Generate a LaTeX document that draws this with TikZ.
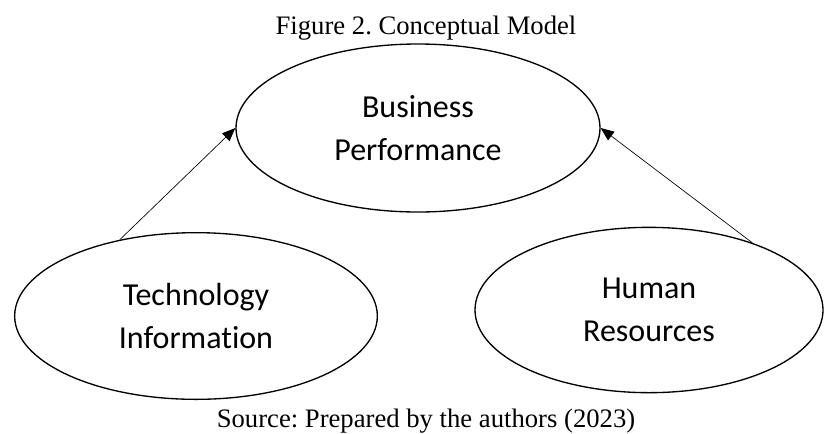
\documentclass[tikz,border=0pt]{standalone}
\usepackage{fontspec}
\setmainfont{Liberation Serif}
\newfontfamily\calibrifont[Ligatures=NoCommon]{Carlito}
\usetikzlibrary{arrows.meta,shapes.geometric,positioning}
\frenchspacing

\begin{document}
\begin{tikzpicture}[
        x=0.75pt, y=-0.75pt,
        concept node/.style={ellipse, draw, line width=1pt, inner sep=0pt,
                align=center, font=\calibrifont\fontsize{24}{32}\selectfont},
        caption text/.style={inner sep=0pt, font=\fontsize{20}{24}\selectfont},
        effect/.style={line width=0.5pt, -{Triangle[length=10pt,width=8pt]}},
    ]
    \useasboundingbox (0, 0) rectangle (827, 433);

    % Captions above and below
    \node[caption text] (title) at (426, 28) {Figure 2. Conceptual Model};
    \node[caption text] (source) at (426, 421) {Source: Prepared by the authors (2023)};

    % The three constructs
    \node[concept node, minimum width=273pt, minimum height=126pt]
    (bp) at (418, 128) {Business\\Performance};
    \node[concept node, minimum width=272pt, minimum height=125pt]
    (ti) at (196, 316) {Technology\\Information};
    \node[concept node, minimum width=261pt, minimum height=124pt]
    (hr) at (649, 310) {Human\\Resources};

    % Arrows to the outcome
    \draw[effect] (ti.135) -- (bp.west);
    \draw[effect] (hr.33) -- (bp.east);
\end{tikzpicture}
\end{document}
